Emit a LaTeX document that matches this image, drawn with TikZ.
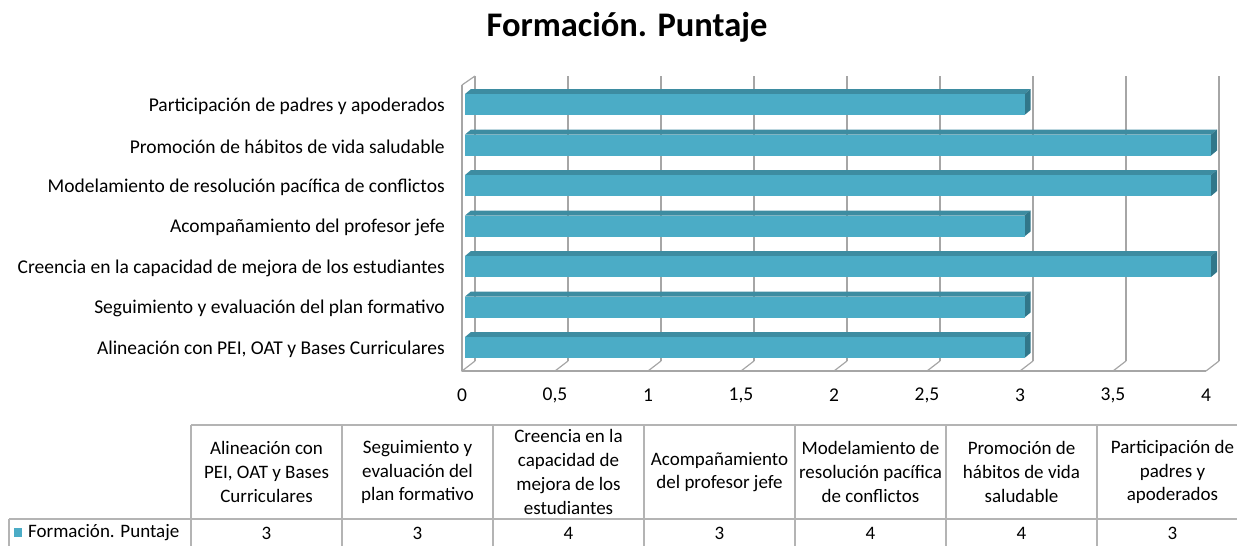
\documentclass[tikz,border=0pt]{standalone}
\usepackage{fontspec}
\setmainfont{Carlito}
\definecolor{barfront}{HTML}{4BACC6}
\definecolor{bartop}{HTML}{3D8CA1}
\definecolor{barside}{HTML}{31778A}
\definecolor{gridgray}{HTML}{A6A6A6}
\definecolor{tablegray}{HTML}{B4B4B4}
\begin{document}
\begin{tikzpicture}[x=1pt,y=-1pt,line join=round,
  catlabel/.style={anchor=east,inner sep=0pt,font=\fontsize{19.5}{23.5}\selectfont},
  ticklabel/.style={inner sep=0pt,font=\fontsize{19.5}{23.5}\selectfont},
  cell/.style={align=center,inner sep=0pt,font=\fontsize{19}{23.7}\selectfont}]
\useasboundingbox (0,0) rectangle (1237,546);
\clip (0,0) rectangle (1237,546);
% title
\node[font=\bfseries\fontsize{34.5}{40}\selectfont] (title) at (627,27) {Formación. Puntaje};
% walls and grid
\foreach \i in {0,...,8}{
  \draw[gridgray,line width=1.2pt] (475+93*\i,76) -- (475+93*\i,361);
  \draw[gridgray,line width=1.2pt] (462+93*\i,371) -- (475+93*\i,361);
}
\draw[gridgray,line width=1.2pt] (462,85) -- (462,371) -- (1206,371);
\draw[gridgray,line width=1.2pt] (462,85) -- (475,76);
% bars
\foreach \v [count=\k] in {3,3,4,3,4,4,3}{
  \pgfmathsetmacro{\c}{347.5-40.5*(\k-1)}
  \pgfmathsetmacro{\e}{465+186.5*\v}
  \fill[bartop] (465,\c-10.5) -- (471,\c-15.5) -- (\e+6,\c-15.5) -- (\e,\c-10.5) -- cycle;
  \fill[barside] (\e,\c-10.5) -- (\e+6,\c-15.5) -- (\e+6,\c+5.5) -- (\e,\c+10.5) -- cycle;
  \fill[barfront] (465,\c-10.5) rectangle (\e,\c+10.5);
}
% category labels
\foreach \t [count=\k] in {{Alineación con PEI, OAT y Bases Curriculares},
  Seguimiento y evaluación del plan formativo,
  Creencia en la capacidad de mejora de los estudiantes,
  Acompañamiento del profesor jefe,
  Modelamiento de resolución pacífica de conflictos,
  Promoción de hábitos de vida saludable,
  Participación de padres y apoderados}{
  \node[catlabel] (cat\k) at (445,{349-40.5*(\k-1)}) {\t};
}
% axis numbers
\foreach \n [count=\i from 0] in {0,{0,5},1,{1,5},2,{2,5},3,{3,5},4}{
  \node[ticklabel] (tick\i) at (462+93*\i,395) {\n};
}
% data table
\draw[tablegray,line width=1.2pt] (191,425) -- (1250,425);
\draw[tablegray,line width=1.2pt] (9,519) -- (1250,519);
\draw[tablegray,line width=1.2pt] (9,519) -- (9,550);
\foreach \j in {0,...,7}{
  \draw[tablegray,line width=1.2pt] (191+151*\j,425) -- (191+151*\j,550);
}
\foreach \t/\v [count=\j from 0] in {
  {Alineación con\\PEI, OAT y Bases\\Curriculares}/3,
  {Seguimiento y\\evaluación del\\plan formativo}/3,
  {Creencia en la\\capacidad de\\mejora de los\\estudiantes}/4,
  {Acompañamiento\\del profesor jefe}/3,
  {Modelamiento de\\resolución pacífica\\de conflictos}/4,
  {Promoción de\\hábitos de vida\\saludable}/4,
  {Participación de\\padres y\\apoderados}/3}{
  \node[cell] (head\j) at (266.5+151*\j,472) {\t};
  \node[cell] (val\j) at (266.5+151*\j,533) {\v};
}
\fill[barfront] (14,528) rectangle (22,537);
\node[cell,anchor=west] (legend) at (28,533) {Formación. Puntaje};
\end{tikzpicture}
\end{document}
